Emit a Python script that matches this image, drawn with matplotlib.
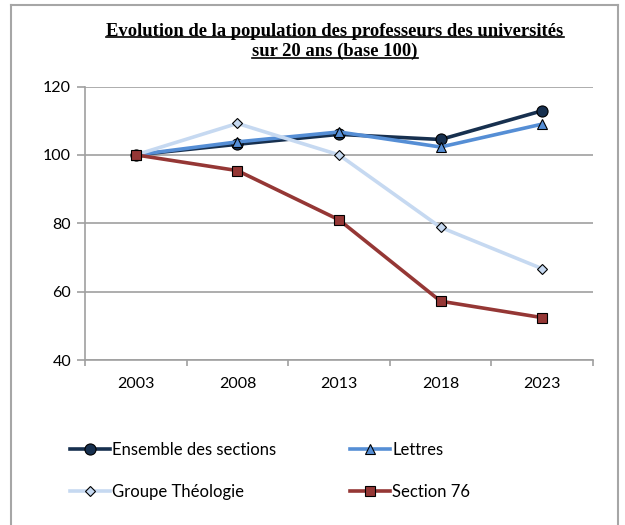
import numpy as np
import matplotlib
matplotlib.use("Agg")
import matplotlib.pyplot as plt
from matplotlib.lines import Line2D

years = ["2003", "2008", "2013", "2018", "2023"]
ensemble = [100, 103.1, 106.0, 104.5, 112.9]
lettres = [100, 103.8, 106.7, 102.3, 109.0]
theologie = [100, 109.2, 100.0, 78.8, 66.7]
section76 = [100, 95.4, 81.0, 57.2, 52.4]

fig = plt.figure(figsize=(6.25, 5.25), dpi=100)
W, H = 625, 525
ax = fig.add_axes([85 / W, 1 - 360 / H, (593 - 85) / W, (360 - 86.5) / H])

# outer frame (no bottom edge visible)
fig.add_artist(Line2D([11 / W, 11 / W], [0, 1 - 5 / H], color="#a6a6a6", lw=1.5))
fig.add_artist(Line2D([618 / W, 618 / W], [0, 1 - 5 / H], color="#a6a6a6", lw=1.5))
fig.add_artist(Line2D([11 / W, 618 / W], [1 - 5 / H, 1 - 5 / H], color="#a6a6a6", lw=1.5))

x = np.arange(len(years))
gray = "#a0a0a0"
ax.plot(x, ensemble, color="#17304f", lw=2.6, marker="o", ms=8,
        mfc="#17304f", mec="black", mew=0.8, label="Ensemble des sections")
ax.plot(x, lettres, color="#558ed5", lw=2.6, marker="^", ms=7.5,
        mfc="#558ed5", mec="black", mew=0.8, label="Lettres")
ax.plot(x, theologie, color="#c6d9f1", lw=2.6, marker="D", ms=5.5,
        mfc="#c6d9f1", mec="black", mew=0.8, label="Groupe Théologie")
ax.plot(x, section76, color="#953735", lw=2.6, marker="s", ms=7.5,
        mfc="#953735", mec="black", mew=0.8, label="Section 76")

ax.set_xlim(-0.5, 4.5)
ax.set_ylim(40, 120)
ax.set_yticks([40, 60, 80, 100, 120])
ax.set_xticks(x)
ax.set_xticklabels(years)
ax.set_xticks(np.arange(-0.5, 5, 1), minor=True)
ax.tick_params(axis="x", which="major", length=0, pad=12)
ax.tick_params(axis="x", which="minor", length=4, color=gray, width=1.2)
ax.tick_params(axis="y", length=6, color=gray, width=1.2, pad=4)
for lab in ax.get_xticklabels() + ax.get_yticklabels():
    lab.set_fontfamily("Lato")
    lab.set_fontsize(11.5)
ax.yaxis.grid(True, color=gray, lw=1.2)
ax.set_axisbelow(True)
for s in ["top", "right"]:
    ax.spines[s].set_visible(False)
for s in ["left", "bottom"]:
    ax.spines[s].set_color(gray)
    ax.spines[s].set_linewidth(1.2)

# title, two underlined lines
t1 = fig.text(335 / W, 1 - 31 / H, "Evolution de la population des professeurs des universités",
              ha="center", va="center", family="Liberation Serif", weight="bold", fontsize=13.4)
t2 = fig.text(335 / W, 1 - 51.5 / H, "sur 20 ans (base 100)",
              ha="center", va="center", family="Liberation Serif", weight="bold", fontsize=13.4)
fig.canvas.draw()
r = fig.canvas.get_renderer()
for t in (t1, t2):
    bb = t.get_window_extent(r)
    yline = bb.y0 + 2.5
    fig.add_artist(Line2D([bb.x0 / W, bb.x1 / W], [yline / H, yline / H], color="black", lw=1.2))

h, l = ax.get_legend_handles_labels()
order = [0, 2, 1, 3]
fig.legend([h[i] for i in order], [l[i] for i in order], ncol=2,
           loc="upper left", bbox_to_anchor=(70 / W, 1 - 442 / H),
           frameon=False, borderpad=0, borderaxespad=0,
           handlelength=2.4, handletextpad=0.15,
           columnspacing=4.4, labelspacing=1.55,
           prop={"family": "Lato", "size": 12})

fig.savefig("out.png", dpi=100)
